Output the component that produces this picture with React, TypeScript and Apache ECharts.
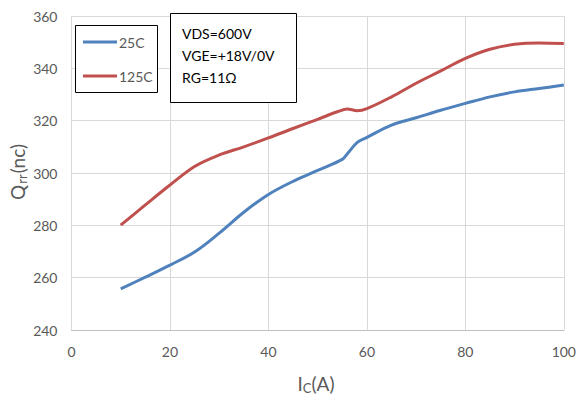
import React, { useEffect, useRef } from "react";
import * as echarts from "echarts";

// Collector current Ic (A) sample points and reverse recovery charge Qrr (nC)
const current25 = [10, 15, 20, 25, 30, 35, 40, 45, 50, 55, 56, 58, 60, 65, 70, 75, 80, 85, 90, 95, 100];
const qrr25 = [255.7, 260.2, 264.8, 269.8, 277, 285, 291.8, 296.8, 301, 305.2, 307.3, 311.6, 313.6, 318.3, 321.1, 324, 326.6, 329.1, 331, 332.3, 333.6];

const current125 = [10, 15, 20, 25, 30, 35, 40, 45, 50, 54, 56, 58, 60, 65, 70, 75, 80, 85, 90, 95, 100];
const qrr125 = [280.1, 287.8, 295.4, 302.5, 306.9, 310, 313.4, 317, 320.5, 323.4, 324.5, 323.8, 324.6, 329.1, 334.3, 339, 343.8, 347.3, 349.2, 349.7, 349.5];

const seriesNames = ["25C", "125C"];
const seriesColors = ["#4f81bd", "#c0504d"];
const conditions = ["VDS=600V", "VGE=+18V/0V", "RG=11Ω"];

const FONT = "Lato";
const GREY = "#595959";

export default function App() {
  const ref = useRef<HTMLDivElement>(null);

  useEffect(() => {
    if (!ref.current) return;
    const chart = echarts.init(ref.current, undefined, { renderer: "svg" });
    const pairs = (xs: number[], ys: number[]) => xs.map((x, i) => [x, ys[i]]);

    chart.setOption({
      animation: false,
      backgroundColor: "#ffffff",
      grid: { left: 71.5, right: 13, top: 16, bottom: 72 },
      xAxis: {
        type: "value",
        min: 0,
        max: 100,
        interval: 20,
        axisLine: { show: true, lineStyle: { color: "#bfbfbf", width: 1 } },
        axisTick: { show: false },
        axisLabel: { color: GREY, fontFamily: FONT, fontSize: 14, margin: 14 },
        splitLine: { show: true, lineStyle: { color: "#d9d9d9", width: 1 } },
      },
      yAxis: {
        type: "value",
        min: 240,
        max: 360,
        interval: 20,
        axisLine: { show: false },
        axisTick: { show: false },
        axisLabel: { color: GREY, fontFamily: FONT, fontSize: 14, margin: 14 },
        splitLine: { show: true, lineStyle: { color: "#d9d9d9", width: 1 } },
      },
      series: [
        {
          name: seriesNames[0],
          type: "line",
          data: pairs(current25, qrr25),
          smooth: 0.35,
          showSymbol: false,
          lineStyle: { color: seriesColors[0], width: 3 },
        },
        {
          name: seriesNames[1],
          type: "line",
          data: pairs(current125, qrr125),
          smooth: 0.35,
          showSymbol: false,
          lineStyle: { color: seriesColors[1], width: 3 },
        },
      ],
      graphic: [
        // legend box
        {
          type: "rect",
          shape: { x: 75.5, y: 25.5, width: 82, height: 67 },
          style: { fill: "#ffffff", stroke: "#000000", lineWidth: 1 },
          z: 10,
        },
        {
          type: "line",
          shape: { x1: 83, y1: 42, x2: 117, y2: 42 },
          style: { stroke: seriesColors[0], lineWidth: 3 },
          z: 11,
        },
        {
          type: "text",
          x: 119,
          y: 42,
          style: { text: seriesNames[0], fill: GREY, font: `14px "${FONT}"`, verticalAlign: "middle" },
          z: 11,
        },
        {
          type: "line",
          shape: { x1: 83, y1: 76, x2: 117, y2: 76 },
          style: { stroke: seriesColors[1], lineWidth: 3 },
          z: 11,
        },
        {
          type: "text",
          x: 119,
          y: 76,
          style: { text: seriesNames[1], fill: GREY, font: `14px "${FONT}"`, verticalAlign: "middle" },
          z: 11,
        },
        // test conditions box
        {
          type: "rect",
          shape: { x: 170.5, y: 13.5, width: 126, height: 89 },
          style: { fill: "#ffffff", stroke: "#000000", lineWidth: 1 },
          z: 10,
        },
        ...conditions.map((t, i) => ({
          type: "text",
          x: 182,
          y: 33 + i * 22,
          style: { text: t, fill: "#000000", font: `14px "${FONT}"`, verticalAlign: "middle" },
          z: 11,
        })),
        // axis titles
        {
          type: "text",
          x: 17,
          y: 172,
          rotation: Math.PI / 2,
          style: {
            text: "Q{s|rr}(nc)",
            fill: GREY,
            font: `19px "${FONT}"`,
            align: "center",
            verticalAlign: "middle",
            rich: { s: { fontSize: 13, fontFamily: FONT, fill: GREY, padding: [9, 1, 0, 1] } },
          },
        },
        {
          type: "text",
          x: 316,
          y: 383,
          style: {
            text: "I{s|C}(A)",
            fill: GREY,
            font: `19px "${FONT}"`,
            align: "center",
            verticalAlign: "middle",
            rich: { s: { fontSize: 13, fontFamily: FONT, fill: GREY, padding: [9, 0, 0, 0] } },
          },
        },
      ],
    });

    return () => chart.dispose();
  }, []);

  return (
    <div
      ref={ref}
      style={{ position: "absolute", left: 0, top: 0, width: 579, height: 402 }}
    />
  );
}
